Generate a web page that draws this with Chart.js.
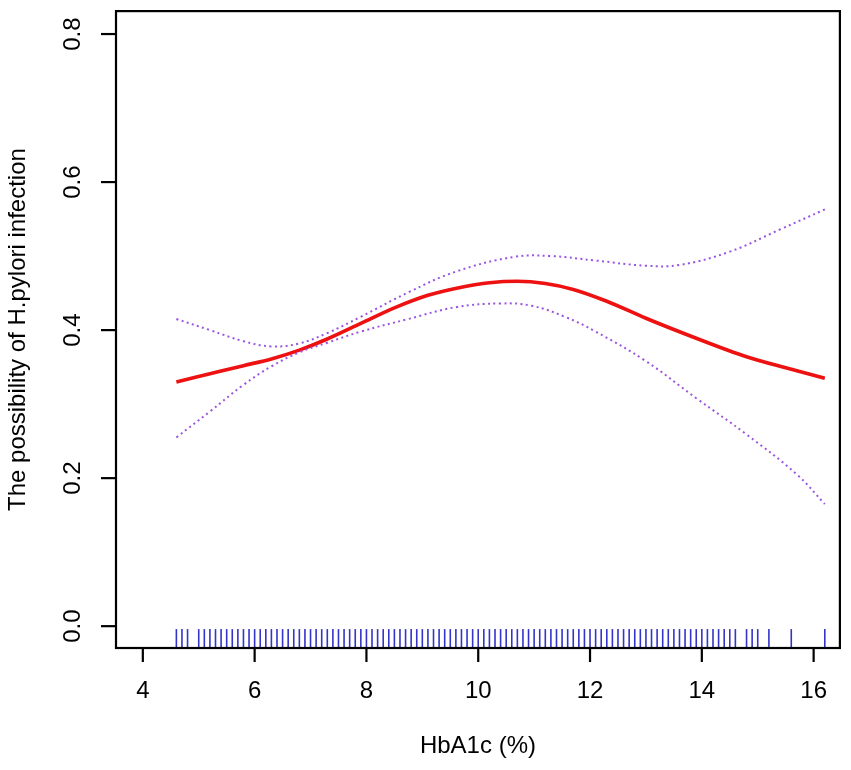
<!DOCTYPE html>
<html>
<head>
<meta charset="utf-8">
<script src="https://cdn.jsdelivr.net/npm/chart.js@4/dist/chart.umd.min.js"></script>
<style>
  html, body { margin: 0; padding: 0; background: #fff; }
  #wrap { width: 851px; height: 770px; }
</style>
</head>
<body>
<div id="wrap"><canvas id="rcsChart" width="851" height="770"></canvas></div>
<script>
// tick labels
const xTicks = [4, 6, 8, 10, 12, 14, 16];
const yTicks = [0.0, 0.2, 0.4, 0.6, 0.8];

// fitted curve
const fitX = [4.6, 5.2, 5.8, 6.3, 6.8, 7.3, 7.9, 8.5, 9.1, 9.7, 10.2, 10.7, 11.2, 11.7, 12.3, 13.0, 13.9, 14.8, 15.5, 16.2];
const fitY = [0.330, 0.341, 0.352, 0.361, 0.373, 0.388, 0.409, 0.430, 0.447, 0.458, 0.464, 0.466, 0.463, 0.455, 0.439, 0.416, 0.389, 0.364, 0.349, 0.335];

// 95% CI bounds
const upperX = [4.6, 5.2, 5.8, 6.3, 6.8, 7.3, 7.9, 8.75, 9.6, 10.65, 11.3, 12.1, 13.0, 13.6, 14.5, 15.4, 16.2];
const upperY = [0.415, 0.400, 0.385, 0.378, 0.382, 0.396, 0.418, 0.451, 0.479, 0.499, 0.500, 0.494, 0.487, 0.488, 0.506, 0.536, 0.563];
const lowerX = [4.6, 5.2, 5.8, 6.3, 6.8, 7.3, 7.9, 8.75, 9.6, 10.4, 10.95, 11.55, 12.1, 13.0, 13.9, 14.8, 15.7, 16.2];
const lowerY = [0.255, 0.290, 0.326, 0.351, 0.370, 0.383, 0.398, 0.415, 0.431, 0.436, 0.433, 0.418, 0.398, 0.358, 0.308, 0.259, 0.205, 0.165];

// rug of observed HbA1c values
const rugX = [
  4.6, 4.7, 4.8,
  5.0, 5.1, 5.2, 5.3, 5.4, 5.5, 5.6, 5.7, 5.8, 5.9,
  6.0, 6.1, 6.2, 6.3, 6.4, 6.5, 6.6, 6.7, 6.8, 6.9,
  7.0, 7.1, 7.2, 7.3, 7.4, 7.5, 7.6, 7.7, 7.8, 7.9,
  8.0, 8.1, 8.2, 8.3, 8.4, 8.5, 8.6, 8.7, 8.8, 8.9,
  9.0, 9.1, 9.2, 9.3, 9.4, 9.5, 9.6, 9.7, 9.8, 9.9,
  10.0, 10.1, 10.2, 10.3, 10.4, 10.5, 10.6, 10.7, 10.8, 10.9,
  11.0, 11.1, 11.2, 11.3, 11.4, 11.5, 11.6, 11.7, 11.8, 11.9,
  12.0, 12.1, 12.2, 12.3, 12.4, 12.5, 12.6, 12.7, 12.8, 12.9,
  13.0, 13.1, 13.2, 13.3, 13.4, 13.5, 13.6, 13.7, 13.8, 13.9,
  14.0, 14.1, 14.2, 14.3, 14.4, 14.5, 14.6,
  14.8, 14.9, 15.0, 15.2, 15.6, 16.2
];
const rugLevel = -0.0168;

const FONT = '24px "Liberation Sans", Arial, sans-serif';

const zip = (xs, ys) => xs.map((x, i) => ({ x, y: ys[i] }));

// R-style box, ticks and labels
const rAxes = {
  id: 'rAxes',
  afterDraw(chart) {
    const { ctx, chartArea: a, scales: { x, y } } = chart;
    ctx.save();
    ctx.strokeStyle = '#000';
    ctx.lineWidth = 2.2;
    ctx.strokeRect(a.left, a.top, a.right - a.left, a.bottom - a.top);

    ctx.fillStyle = '#000';
    ctx.font = FONT;
    ctx.textAlign = 'center';
    ctx.textBaseline = 'middle';
    xTicks.forEach(v => {
      const px = x.getPixelForValue(v);
      ctx.beginPath();
      ctx.moveTo(px, a.bottom);
      ctx.lineTo(px, a.bottom + 14);
      ctx.stroke();
      ctx.fillText(String(v), px, a.bottom + 43);
    });
    yTicks.forEach(v => {
      const py = y.getPixelForValue(v);
      ctx.beginPath();
      ctx.moveTo(a.left, py);
      ctx.lineTo(a.left - 15, py);
      ctx.stroke();
      ctx.save();
      ctx.translate(a.left - 43, py);
      ctx.rotate(-Math.PI / 2);
      ctx.fillText(v.toFixed(1), 0, 0);
      ctx.restore();
    });

    ctx.fillText('HbA1c (%)', (a.left + a.right) / 2, a.bottom + 98);
    ctx.save();
    ctx.translate(18, (a.top + a.bottom) / 2);
    ctx.rotate(-Math.PI / 2);
    ctx.fillText('The possibility of H.pylori infection', 0, 0);
    ctx.restore();
    ctx.restore();
  }
};

const ciStyle = {
  borderColor: '#9a55e0',
  borderWidth: 2,
  borderDash: [2, 3.4],
  pointRadius: 0,
  tension: 0.4,
  fill: false,
};

new Chart(document.getElementById('rcsChart'), {
  type: 'line',
  data: {
    datasets: [
      { label: 'upper', data: zip(upperX, upperY), ...ciStyle },
      { label: 'lower', data: zip(lowerX, lowerY), ...ciStyle },
      {
        label: 'fit',
        data: zip(fitX, fitY),
        borderColor: '#ee1111',
        borderWidth: 3.6,
        pointRadius: 0,
        cubicInterpolationMode: 'monotone',
        fill: false,
      },
      {
        label: 'rug',
        data: rugX.map(v => ({ x: v, y: rugLevel })),
        showLine: false,
        pointStyle: 'line',
        rotation: 90,
        pointRadius: 9.5,
        pointBorderWidth: 1.6,
        pointBorderColor: '#3434c8',
        pointBackgroundColor: '#3434c8',
      },
    ],
  },
  options: {
    responsive: false,
    animation: false,
    events: [],
    layout: { padding: { left: 116, right: 8, top: 7, bottom: 122 } },
    plugins: { legend: { display: false }, tooltip: { enabled: false } },
    scales: {
      x: { type: 'linear', min: 3.52, max: 16.47, display: false },
      y: { type: 'linear', min: -0.0295, max: 0.831, display: false },
    },
  },
  plugins: [rAxes],
});
</script>
</body>
</html>
